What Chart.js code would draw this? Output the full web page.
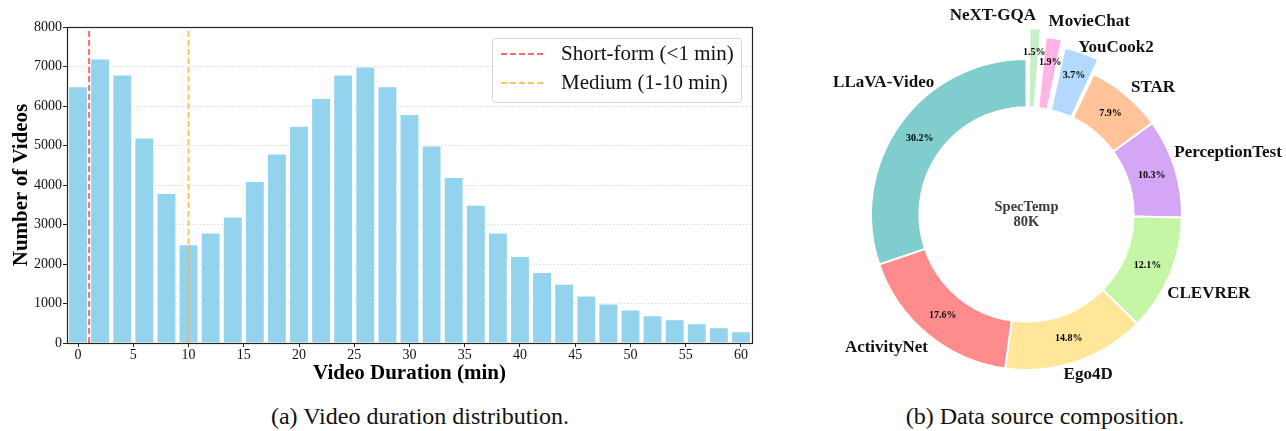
<!DOCTYPE html>
<html>
<head>
<meta charset="utf-8">
<script src="https://cdn.jsdelivr.net/npm/chart.js@4.4.1/dist/chart.umd.min.js"></script>
<style>
  html, body { margin: 0; padding: 0; background: #fff; }
  body { position: relative; width: 1286px; height: 431px; overflow: hidden;
         font-family: "Liberation Serif", "Times New Roman", serif; }
  #durationChart { position: absolute; left: 0; top: 0; }
  #sourceChart { position: absolute; left: 800px; top: 0; }
  .caption { position: absolute; top: 404px; font-size: 24px; line-height: 24px; color: #111;
             white-space: nowrap; transform: translateX(-50%); }
  #durLegend { position: absolute; box-sizing: border-box; width: 250px; height: 65px;
               border: 1px solid #d4d4d4; border-radius: 4px; background: rgba(255,255,255,0.85); }
  #durLegend .row { position: absolute; left: 8px; height: 24px; display: flex; align-items: center; }
  #durLegend .row span { margin-left: 17px; font-size: 21px; color: #111; white-space: nowrap; }
</style>
</head>
<body>
<canvas id="durationChart" width="770" height="395"></canvas>
<canvas id="sourceChart" width="486" height="400"></canvas>
<div id="durLegend"></div>
<div class="caption" style="left:420px">(a) Video duration distribution.</div>
<div class="caption" style="left:1045px">(b) Data source composition.</div>
<script>
// (a) duration histogram
const durations = [0, 2, 4, 6, 8, 10, 12, 14, 16, 18, 20, 22, 24, 26, 28, 30,
                   32, 34, 36, 38, 40, 42, 44, 46, 48, 50, 52, 54, 56, 58, 60];
const videoCounts = [6500, 7200, 6800, 5200, 3800, 2500, 2800, 3200, 4100, 4800, 5500,
                     6200, 6800, 7000, 6500, 5800, 5000, 4200, 3500, 2800, 2200, 1800,
                     1500, 1200, 1000, 850, 700, 600, 500, 400, 300];
const xTicks = [0, 5, 10, 15, 20, 25, 30, 35, 40, 45, 50, 55, 60];
const yTicks = [0, 1000, 2000, 3000, 4000, 5000, 6000, 7000, 8000];
const markerLabels = ["Short-form (<1 min)", "Medium (1-10 min)"];
const markerMinutes = [1, 10];

// (b) data sources, clockwise from 12 o'clock
const sources = ["NeXT-GQA", "MovieChat", "YouCook2", "STAR", "PerceptionTest",
                 "CLEVRER", "Ego4D", "ActivityNet", "LLaVA-Video"];
const shares = [1.5, 1.9, 3.7, 7.9, 10.3, 12.1, 14.8, 17.6, 30.2];
const centerText = ["SpecTemp", "80K"];

const SERIF = '"Liberation Serif", "Times New Roman", serif';
const markerColors = ["rgba(255, 80, 80, 0.85)", "rgba(255, 180, 50, 0.8)"];
const sourceColors = ["#C6EFC6", "#FFB3E6", "#B3D9FF", "#FFC299", "#D5A6F5",
                      "#C5F5A5", "#FFE699", "#FF8C8C", "#80CDCD"];
const explodePx = [31, 23, 15.5, 0, 0, 0, 0, 0, 0];
// label spot: angle shift from the slice middle (deg, ccw) and distance in radii
const labelSpot = [[12.3, 1.305], [-9.2, 1.312], [-9.3, 1.225], [-5.2, 1.158], [-0.5, 1.364],
                   [-0.7, 1.287], [2.3, 1.113], [-6.8, 1.252], [-7.1, 1.259]];

const frame = {
    id: "frame",
    afterDatasetsDraw(chart) {
        const {ctx, chartArea: a} = chart;
        ctx.save();
        ctx.strokeStyle = "#222";
        ctx.lineWidth = 1.2;
        ctx.strokeRect(Math.round(a.left) + 0.5, Math.round(a.top) + 0.5,
                       Math.round(a.right - a.left), Math.round(a.bottom - a.top));
        ctx.restore();
    }
};

const durChart = new Chart(document.getElementById("durationChart"), {
    type: "bar",
    data: {
        datasets: [
            ...markerMinutes.map((m, i) => ({
                type: "line",
                label: markerLabels[i],
                data: [{x: m, y: yTicks[0]}, {x: m, y: yTicks[yTicks.length - 1]}],
                borderColor: markerColors[i],
                backgroundColor: "transparent",
                borderDash: [6, 3],
                borderWidth: 2,
                pointRadius: 0,
                fill: false,
                order: 1
            })),
            {
                label: "Videos",
                data: durations.map((d, i) => ({x: d, y: videoCounts[i]})),
                backgroundColor: "rgba(135, 206, 235, 0.9)",
                borderColor: "#ffffff",
                borderWidth: 1,
                borderSkipped: "bottom",
                barPercentage: 0.9,
                categoryPercentage: 1,
                order: 2
            }
        ]
    },
    options: {
        responsive: false,
        animation: false,
        layout: {padding: {top: 27, right: 18, left: 0, bottom: 0}},
        plugins: {legend: {display: false}, tooltip: {enabled: false}},
        scales: {
            x: {
                type: "linear",
                min: -1,
                max: 61,
                offset: false,
                afterBuildTicks: s => { s.ticks = xTicks.map(v => ({value: v})); },
                afterFit: s => { s.height = 52; },
                grid: {offset: false, drawOnChartArea: false, drawTicks: true, tickLength: 4, tickColor: "#222"},
                border: {display: false},
                ticks: {font: {family: SERIF, size: 14}, color: "#111", padding: 0, maxRotation: 0,
                        callback: v => String(v)},
                title: {display: true, text: "Video Duration (min)", color: "#000",
                        font: {family: SERIF, size: 21, weight: "bold"}, padding: {top: 0, bottom: 9}}
            },
            y: {
                min: 0,
                max: 8000,
                afterBuildTicks: s => { s.ticks = yTicks.map(v => ({value: v})); },
                afterFit: s => { s.width = 67; },
                grid: {color: "rgba(185, 185, 185, 0.55)", lineWidth: 1, drawTicks: true,
                       tickLength: 4, tickColor: "#222", tickBorderDash: []},
                border: {display: false, dash: [1.5, 2]},
                ticks: {font: {family: SERIF, size: 14}, color: "#111", padding: 1,
                        callback: v => String(v)},
                title: {display: true, text: "Number of Videos", color: "#000",
                        font: {family: SERIF, size: 21, weight: "bold"}, padding: {top: 9, bottom: 0}}
            }
        }
    },
    plugins: [frame]
});

// legend box inside the plot, top right
(function () {
    const box = document.getElementById("durLegend");
    const a = durChart.chartArea;
    box.style.left = (a.right - 10 - 250) + "px";
    box.style.top = (a.top + 10.5) + "px";
    markerLabels.forEach((lab, i) => {
        const row = document.createElement("div");
        row.className = "row";
        row.style.top = (3 + i * 29) + "px";
        row.innerHTML = '<svg width="43" height="4"><line x1="0" y1="2" x2="43" y2="2" stroke="' +
            markerColors[i] + '" stroke-width="2" stroke-dasharray="6 3"/></svg>';
        const t = document.createElement("span");
        t.textContent = lab;
        row.appendChild(t);
        box.appendChild(row);
    });
})();

const donutDecor = {
    id: "donutDecor",
    afterDatasetsDraw(chart) {
        const {ctx} = chart;
        const arcs = chart.getDatasetMeta(0).data;
        const cx = arcs[0].x, cy = arcs[0].y;
        const R = arcs[0].outerRadius - 1;
        ctx.save();
        ctx.fillStyle = "#fff";
        ctx.beginPath();
        ctx.arc(cx, cy, 0.7 * R, 0, Math.PI * 2);
        ctx.fill();

        ctx.textAlign = "center";
        ctx.textBaseline = "middle";
        arcs.forEach((arc, i) => {
            const mid = (arc.startAngle + arc.endAngle) / 2;
            const r = 0.85 * R + explodePx[i];
            ctx.font = "bold 10px " + SERIF;
            ctx.fillStyle = "#000";
            ctx.fillText(shares[i].toFixed(1) + "%", cx + Math.cos(mid) * r, cy + Math.sin(mid) * r);

            const ang = mid - labelSpot[i][0] * Math.PI / 180;
            const rl = labelSpot[i][1] * R;
            ctx.font = "bold 17px " + SERIF;
            ctx.fillStyle = "#111";
            ctx.fillText(sources[i], cx + Math.cos(ang) * rl, cy + Math.sin(ang) * rl);
        });

        ctx.font = "bold 14.5px " + SERIF;
        ctx.fillStyle = "#3c3c3c";
        ctx.fillText(centerText[0], cx, cy - 7);
        ctx.fillText(centerText[1], cx, cy + 7.5);
        ctx.restore();
    }
};

new Chart(document.getElementById("sourceChart"), {
    type: "pie",
    data: {
        labels: sources,
        datasets: [{
            data: shares,
            backgroundColor: sourceColors,
            borderColor: "#ffffff",
            borderWidth: 2,
            radius: 155.5,
            hoverOffset: 0,
            offset: c => {
                const d = explodePx[c.dataIndex];
                if (!d) return 0;
                const circ = shares[c.dataIndex] / 100 * Math.PI * 2;
                const fix = 1 - Math.sin(Math.min(Math.PI, circ));
                return 4 * d / (1 + fix);
            }
        }]
    },
    options: {
        responsive: false,
        animation: false,
        layout: {padding: {left: 66.5, right: 99.5, top: 54.5, bottom: 25.5}},
        plugins: {legend: {display: false}, tooltip: {enabled: false}}
    },
    plugins: [donutDecor]
});
</script>
</body>
</html>
